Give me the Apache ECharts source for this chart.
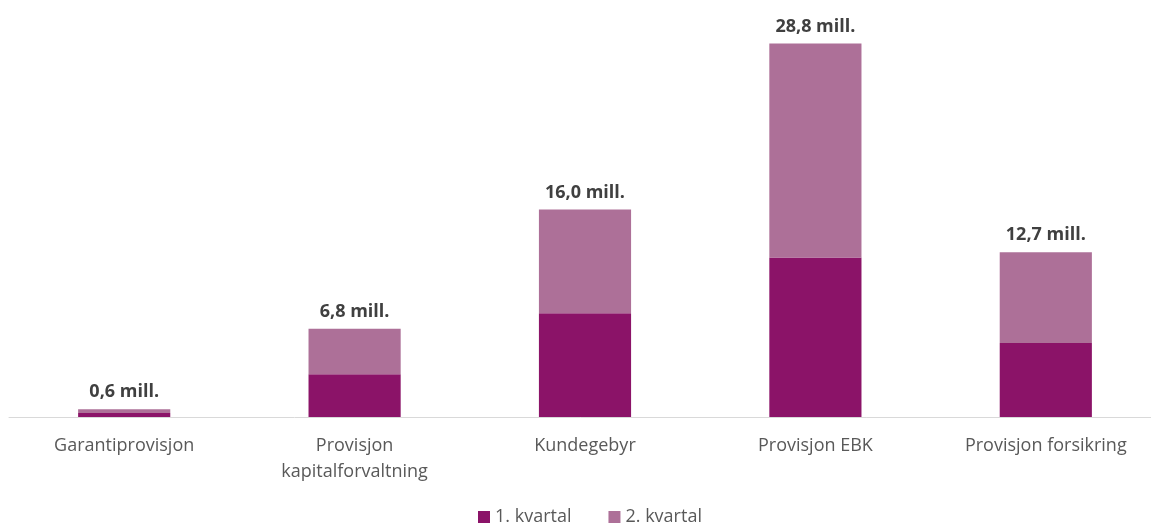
<!DOCTYPE html>
<html>
<head>
<meta charset="utf-8">
<script src="https://cdn.jsdelivr.net/npm/echarts@6/dist/echarts.min.js"></script>
<style>
html,body{margin:0;padding:0;background:#fff;}
#chart{width:1151px;height:525px;}
</style>
</head>
<body>
<div id="chart"></div>
<script>
const categories = ['Garantiprovisjon', 'Provisjon\nkapitalforvaltning', 'Kundegebyr', 'Provisjon EBK', 'Provisjon forsikring'];
const q1 = [0.3, 3.3, 8.0, 12.3, 5.7];
const q2 = [0.3, 3.5, 8.0, 16.5, 7.0];
const totals = [0.6, 6.8, 16.0, 28.8, 12.7];
const seriesNames = ['1. kvartal', '2. kvartal'];

const font = '"Open Sans", Lato, sans-serif';
const chart = echarts.init(document.getElementById('chart'));
chart.setOption({
  animation: false,
  textStyle: { fontFamily: font },
  grid: { left: 9, right: -10, top: 28, bottom: 108, containLabel: false, outerBoundsMode: 'none' },
  legend: {
    bottom: -6,
    left: 473,
    itemWidth: 12,
    itemHeight: 12,
    itemGap: 37,
    icon: 'rect',
    textStyle: { fontSize: 18, color: '#595959', fontFamily: font },
    data: seriesNames
  },
  xAxis: {
    type: 'category',
    data: categories,
    axisLine: { lineStyle: { color: '#d9d9d9', width: 1 } },
    axisTick: { show: false },
    axisLabel: { color: '#595959', fontSize: 18, margin: 16, lineHeight: 26, interval: 0, fontFamily: font }
  },
  yAxis: {
    type: 'value',
    min: 0,
    max: 30,
    show: false,
    splitLine: { show: false }
  },
  series: [
    {
      name: seriesNames[0],
      type: 'bar',
      stack: 'total',
      data: q1,
      barWidth: '40%',
      itemStyle: { color: '#8B1368' }
    },
    {
      name: seriesNames[1],
      type: 'bar',
      stack: 'total',
      data: q2,
      barWidth: '40%',
      itemStyle: { color: '#AD7098' },
      label: {
        show: true,
        position: 'top',
        distance: 8,
        color: '#404040',
        fontWeight: 'bold',
        fontSize: 18,
        fontFamily: font,
        formatter: p => totals[p.dataIndex].toFixed(1).replace('.', ',') + ' mill.'
      }
    }
  ]
});
</script>
</body>
</html>
